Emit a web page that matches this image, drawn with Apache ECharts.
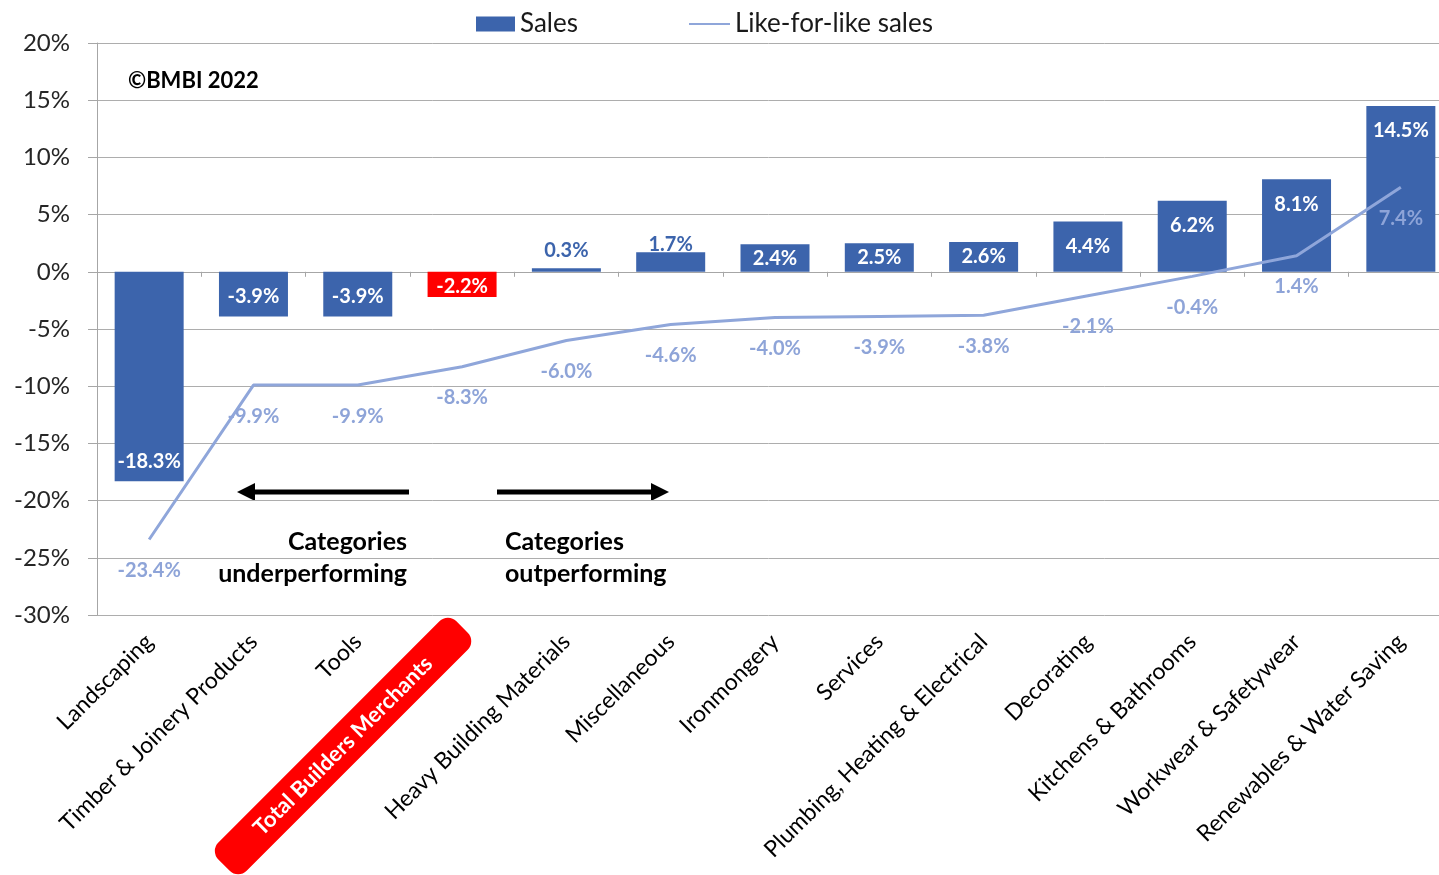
<!DOCTYPE html>
<html>
<head>
<meta charset="utf-8">
<script src="https://cdn.jsdelivr.net/npm/echarts@6/dist/echarts.min.js"></script>
<style>
html,body{margin:0;padding:0;background:#fff;}
#chart{width:1439px;height:875px;}
</style>
</head>
<body>
<div id="chart"></div>
<script>
const categories = [
  'Landscaping', 'Timber & Joinery Products', 'Tools', 'Total Builders Merchants',
  'Heavy Building Materials', 'Miscellaneous', 'Ironmongery', 'Services',
  'Plumbing, Heating & Electrical', 'Decorating', 'Kitchens & Bathrooms',
  'Workwear & Safetywear', 'Renewables & Water Saving'
];
const salesValues = [-18.3, -3.9, -3.9, -2.2, 0.3, 1.7, 2.4, 2.5, 2.6, 4.4, 6.2, 8.1, 14.5];
const likeForLikeValues = [-23.4, -9.9, -9.9, -8.3, -6.0, -4.6, -4.0, -3.9, -3.8, -2.1, -0.4, 1.4, 7.4];
const highlightCategory = 'Total Builders Merchants';
const yMin = -30, yMax = 20, yStep = 5;

const FONT = 'Lato';
const BAR_BLUE = '#3C64AC';
const LINE_BLUE = '#8FA6DA';
const LABEL_BLUE = '#8EA4D8';

function barLabelFor(v) {
  if (v >= 4) return { position: 'insideTop', distance: 15 };
  if (v >= 2) return { position: 'inside' };
  if (v > 0) return { position: 'top', distance: v < 1 ? 8 : -2, color: BAR_BLUE };
  if (v > -3) return { position: 'inside', offset: [0, 2] };
  return { position: 'insideBottom', distance: 10 };
}

const barData = salesValues.map((v, i) => {
  const item = { value: v, label: barLabelFor(v) };
  if (categories[i] === highlightCategory) item.itemStyle = { color: '#FF0000' };
  return item;
});

const chart = echarts.init(document.getElementById('chart'));

const labelAxisBase = {
  type: 'category',
  data: categories,
  position: 'bottom',
  gridIndex: 0,
  axisLine: { show: false, onZero: false },
  axisTick: { show: false },
  splitLine: { show: false }
};

const option = {
  backgroundColor: '#fff',
  animation: false,
  legend: [
    {
      data: [{ name: 'Sales', icon: 'rect' }],
      left: 471, top: 6,
      itemWidth: 39, itemHeight: 15,
      textStyle: { fontFamily: FONT, fontSize: 26, color: '#1a1a1a' },
      selectedMode: false
    },
    {
      data: [{ name: 'Like-for-like sales', itemStyle: { opacity: 0 } }],
      left: 683, top: 6,
      itemWidth: 41, itemHeight: 15,
      textStyle: { fontFamily: FONT, fontSize: 26, color: '#1a1a1a' },
      selectedMode: false
    }
  ],
  grid: { left: 97, right: -14, top: 43, bottom: 260, outerBoundsMode: 'none', containLabel: false },
  xAxis: [
    {
      type: 'category',
      data: categories,
      position: 'bottom',
      axisLine: { show: true, onZero: true, lineStyle: { color: '#A6A6A6', width: 1 } },
      axisTick: { show: true, interval: 0, length: 5, lineStyle: { color: '#A6A6A6' } },
      axisLabel: { show: false },
      splitLine: { show: false }
    },
    Object.assign({}, labelAxisBase, {
      axisLabel: {
        show: true, interval: 0, rotate: 45, margin: 23,
        fontFamily: FONT, fontSize: 23, color: '#000',
        formatter: (v) => v === highlightCategory ? '' : v
      }
    }),
    Object.assign({}, labelAxisBase, {
      axisLabel: {
        show: true, interval: 0, rotate: 45, margin: 12,
        formatter: (v) => v === highlightCategory ? '{hl|' + v + '}' : '',
        rich: {
          hl: {
            fontFamily: FONT, fontSize: 22, fontWeight: 'bold', color: '#fff',
            backgroundColor: '#FF0000', borderRadius: 12,
            padding: [9, 47, 9, 47]
          }
        }
      }
    })
  ],
  yAxis: {
    type: 'value',
    min: yMin, max: yMax, interval: yStep,
    axisLine: { show: true, lineStyle: { color: '#A6A6A6', width: 1 } },
    axisTick: { show: true, length: 9, lineStyle: { color: '#A6A6A6' } },
    splitLine: { show: true, lineStyle: { color: '#ADADAD', width: 1 } },
    axisLabel: {
      margin: 27, fontFamily: FONT, fontSize: 24, color: '#262626',
      formatter: '{value}%'
    }
  },
  series: [
    {
      name: 'Sales',
      type: 'bar',
      xAxisIndex: 0,
      barWidth: 69,
      itemStyle: { color: BAR_BLUE },
      label: {
        show: true,
        fontFamily: FONT, fontSize: 20, fontWeight: 'bold', color: '#fff',
        formatter: (p) => p.value.toFixed(1) + '%'
      },
      data: barData,
      z: 2
    },
    {
      name: 'Like-for-like sales',
      type: 'line',
      xAxisIndex: 0,
      data: likeForLikeValues,
      symbol: 'circle',
      symbolSize: 2,
      itemStyle: { color: LINE_BLUE, opacity: 0 },
      lineStyle: { color: LINE_BLUE, width: 3 },
      label: {
        show: true, position: 'bottom', distance: 20, opacity: 1,
        fontFamily: FONT, fontSize: 20, fontWeight: 'bold', color: LABEL_BLUE,
        formatter: (p) => p.value.toFixed(1) + '%'
      },
      z: 3
    }
  ],
  graphic: [
    {
      type: 'text', left: 128, top: 70,
      style: { text: '©BMBI 2022', fontFamily: FONT, fontSize: 22, fontWeight: 'bold', fill: '#000' }
    },
    {
      type: 'text', x: 407, y: 558,
      style: {
        text: 'Categories\nunderperforming', align: 'right', verticalAlign: 'middle',
        lineHeight: 32, fontFamily: FONT, fontSize: 25, fontWeight: 'bold', fill: '#000'
      }
    },
    {
      type: 'text', x: 505, y: 558,
      style: {
        text: 'Categories\noutperforming', align: 'left', verticalAlign: 'middle',
        lineHeight: 32, fontFamily: FONT, fontSize: 25, fontWeight: 'bold', fill: '#000'
      }
    },
    { type: 'line', shape: { x1: 409, y1: 492, x2: 252, y2: 492 }, style: { stroke: '#000', lineWidth: 5 } },
    { type: 'polygon', shape: { points: [[237, 492], [255, 483], [255, 501]] }, style: { fill: '#000' } },
    { type: 'line', shape: { x1: 497, y1: 492, x2: 654, y2: 492 }, style: { stroke: '#000', lineWidth: 5 } },
    { type: 'polygon', shape: { points: [[669, 492], [651, 483], [651, 501]] }, style: { fill: '#000' } }
  ]
};

chart.setOption(option);
</script>
</body>
</html>
